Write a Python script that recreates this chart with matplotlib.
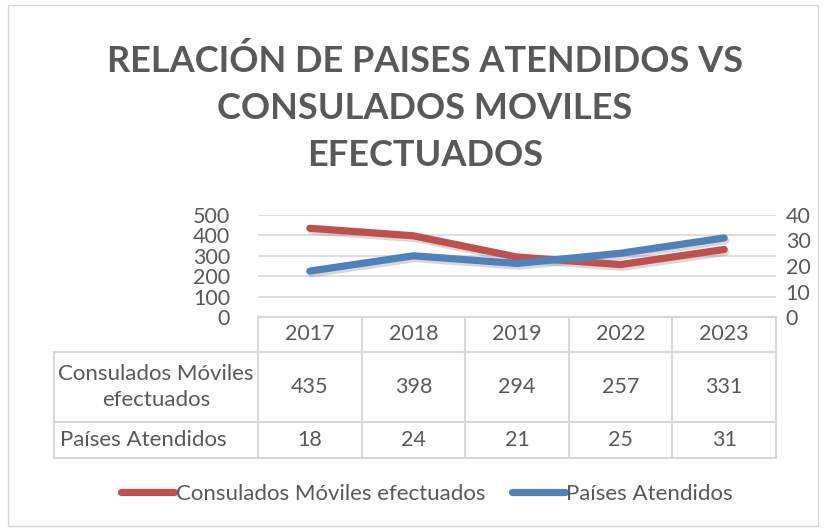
import matplotlib.pyplot as plt
import matplotlib.patheffects as pe
from matplotlib.lines import Line2D
from matplotlib.patches import Rectangle
import matplotlib.transforms as mtransforms

years = ['2017', '2018', '2019', '2022', '2023']
consulados = [435, 398, 294, 257, 331]
paises = [18, 24, 21, 25, 31]
row_labels = ['Consulados Móviles\nefectuados', 'Países Atendidos']
series_names = ['Consulados Móviles efectuados', 'Países Atendidos']
title = 'RELACIÓN DE PAISES ATENDIDOS VS\nCONSULADOS MOVILES\nEFECTUADOS'

RED = '#C0504D'
BLUE = '#4F81BD'
TXT = '#595959'
GRID = '#D9D9D9'
FONT = ['Lato', 'DejaVu Sans']

plt.rcParams['font.family'] = FONT

W, H = 828, 531
fig = plt.figure(figsize=(W / 100, H / 100), dpi=100)


def fx(x):
    return x / W


def fy(y):
    return 1 - y / H


# outer chart border
fig.add_artist(Rectangle((fx(8), fy(526)), fx(818) - fx(8), fy(5) - fy(526),
                         transform=fig.transFigure, fill=False, ec=GRID, lw=1))

fig.text(fx(425), fy(108), title, ha='center', va='center', fontsize=26,
         fontweight='bold', color=TXT, linespacing=1.5)

ax = fig.add_axes([fx(258), fy(317), fx(776) - fx(258), fy(215) - fy(317)])
ax2 = ax.twinx()

x = list(range(len(years)))
shadow = [pe.SimpleLineShadow(offset=(1.2, -2.0), shadow_color='gray', alpha=0.3),
          pe.Normal()]
ax.plot(x, consulados, color=RED, lw=5.2, solid_capstyle='round',
        solid_joinstyle='round', path_effects=shadow, zorder=3)
ax2.plot(x, paises, color=BLUE, lw=5.2, solid_capstyle='round',
         solid_joinstyle='round', path_effects=shadow, zorder=3)

ax.set_xlim(-0.5, len(years) - 0.5)
ax.set_ylim(0, 500)
ax.set_yticks(range(0, 501, 100))
ax2.set_ylim(0, 40)
ax2.set_yticks(range(0, 41, 10))
ax.set_xticks([])
ax.yaxis.grid(True, color=GRID, lw=1.2)
ax.set_axisbelow(True)
for a in (ax, ax2):
    for s in a.spines.values():
        s.set_visible(False)
    a.tick_params(axis='y', length=0, labelsize=15.5, labelcolor=TXT)
ax.tick_params(axis='y', pad=20)
ax2.tick_params(axis='y', pad=7)
ax2.set_zorder(ax.get_zorder() + 1)
ax2.patch.set_visible(False)

# data table below the plot
blend = mtransforms.blended_transform_factory(ax.transData, fig.transFigure)
ft = fig.transFigure
top, r1, r2, bot = 317, 352, 422, 458
left_tab = 54
edges = [i - 0.5 for i in range(len(years) + 1)]
for e in edges:
    fig.add_artist(Line2D([e, e], [fy(top), fy(bot)], transform=blend, color=GRID, lw=1.5))
fig.add_artist(Line2D([fx(left_tab), fx(left_tab)], [fy(r1), fy(bot)], transform=ft, color=GRID, lw=1.5))
fig.add_artist(Line2D([-0.5, len(years) - 0.5], [fy(top), fy(top)], transform=blend, color=GRID, lw=1.5))
for yy in (r1, r2, bot):
    fig.add_artist(Line2D([fx(left_tab), fx(776)], [fy(yy), fy(yy)], transform=ft, color=GRID, lw=1.5))

for i, yr in enumerate(years):
    fig.text(i, fy((top + r1) / 2), yr, transform=blend, ha='center', va='center',
             fontsize=15.5, color=TXT)
    fig.text(i, fy((r1 + r2) / 2), str(consulados[i]), transform=blend, ha='center',
             va='center', fontsize=15.5, color=TXT)
    fig.text(i, fy((r2 + bot) / 2), str(paises[i]), transform=blend, ha='center',
             va='center', fontsize=15.5, color=TXT)

fig.text(fx(156), fy((r1 + r2) / 2), row_labels[0], ha='center', va='center',
         fontsize=16, color=TXT, linespacing=1.4)
fig.text(fx(60), fy((r2 + bot) / 2), row_labels[1], ha='left', va='center',
         fontsize=16, color=TXT)

handles = [Line2D([], [], color=RED, lw=5.2, solid_capstyle='round'),
           Line2D([], [], color=BLUE, lw=5.2, solid_capstyle='round')]
leg = fig.legend(handles, series_names, loc='center', bbox_to_anchor=(fx(427), fy(494)),
                 ncol=2, frameon=False, fontsize=16, handlelength=2.4,
                 handletextpad=0.05, columnspacing=1.2)
for t in leg.get_texts():
    t.set_color(TXT)

fig.savefig('out.png', dpi=100)
